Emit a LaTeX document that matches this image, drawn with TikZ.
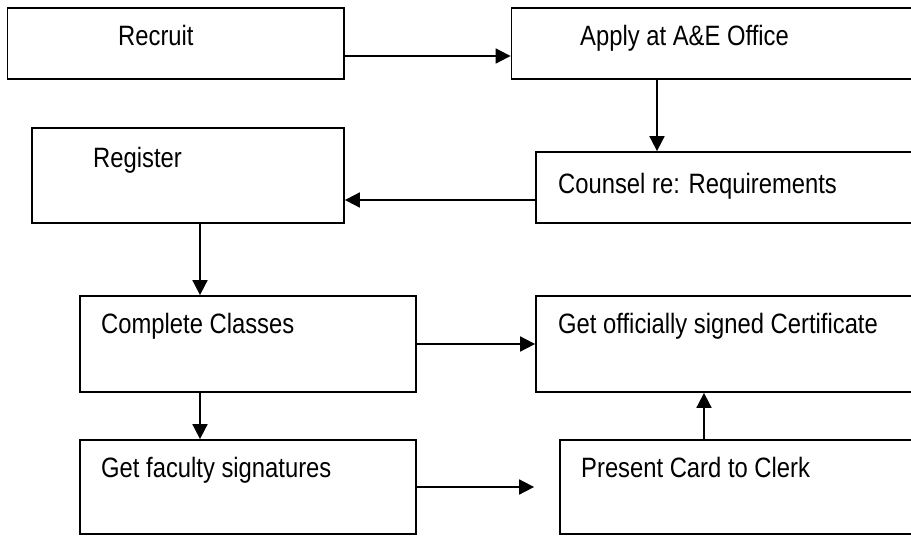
\documentclass[tikz,border=0pt]{standalone}
\usepackage{fontspec}
\setmainfont{Liberation Sans}[FakeStretch=0.85]
\usetikzlibrary{arrows.meta}

\tikzset{
  box/.style={draw, line width=1.8pt, rectangle, inner sep=0pt},
  lbl/.style={anchor=base west, inner sep=0pt, font=\fontsize{28}{33}\selectfont},
  arr/.style={line width=1.8pt, -{Triangle[length=15pt,width=15pt]}}
}

\begin{document}
\begin{tikzpicture}[x=1pt, y=-1pt]
  \useasboundingbox (0,0) rectangle (911,536);
  \clip (0,0) rectangle (911,536);

  % process boxes (right column runs off the page edge)
  \node[box, minimum width=336.5pt, minimum height=71pt] (recruit)  at (175.75,43.5) {};
  \node[box, minimum width=418.5pt, minimum height=71pt] (apply)    at (720.75,43.5) {};
  \node[box, minimum width=312pt,   minimum height=95pt] (register) at (188,175.5) {};
  \node[box, minimum width=394pt,   minimum height=71pt] (counsel)  at (733,187.5) {};
  \node[box, minimum width=336pt,   minimum height=96pt] (complete) at (248,344) {};
  \node[box, minimum width=394pt,   minimum height=96pt] (certificate) at (733,344) {};
  \node[box, minimum width=336pt,   minimum height=94pt] (faculty)  at (248,487) {};
  \node[box, minimum width=370pt,   minimum height=94pt] (present)  at (745,487) {};

  % box captions
  \node[lbl] (recruit-t)     at (118,45)  {Recruit};
  \node[lbl] (apply-t)       at (580,45)  {Apply at A\&E Office};
  \node[lbl] (register-t)    at (93,167)  {Register};
  \node[lbl] (counsel-t)     at (558,193) {Counsel re: Requirements};
  \node[lbl] (complete-t)    at (101,333) {Complete Classes};
  \node[lbl] (certificate-t) at (558,333) {Get officially signed Certificate};
  \node[lbl] (faculty-t)     at (101,477) {Get faculty signatures};
  \node[lbl] (present-t)     at (581,477) {Present Card to Clerk};

  % connector attachment points
  \coordinate (r1) at ([yshift=-12.5pt]recruit.east);
  \coordinate (a1) at ([xshift=-63.75pt]apply.south);
  \coordinate (c1) at ([yshift=-12.5pt]counsel.west);
  \coordinate (g1) at ([xshift=12pt]register.south);
  \coordinate (k1) at ([xshift=-48pt]complete.south);
  \coordinate (p1) at ([xshift=-41pt]present.north);
  \coordinate (fend) at ([xshift=-25pt]present.west);

  % connectors
  \draw[arr] (r1) -- (r1 -| apply.west);
  \draw[arr] (a1) -- (a1 |- counsel.north);
  \draw[arr] (c1) -- (c1 -| register.east);
  \draw[arr] (g1) -- (g1 |- complete.north);
  \draw[arr] (complete.east) -- (certificate.west);
  \draw[arr] (k1) -- (k1 |- faculty.north);
  \draw[arr] (faculty.east) -- (faculty.east -| fend);
  \draw[arr] (p1) -- (p1 |- certificate.south);
\end{tikzpicture}
\end{document}
